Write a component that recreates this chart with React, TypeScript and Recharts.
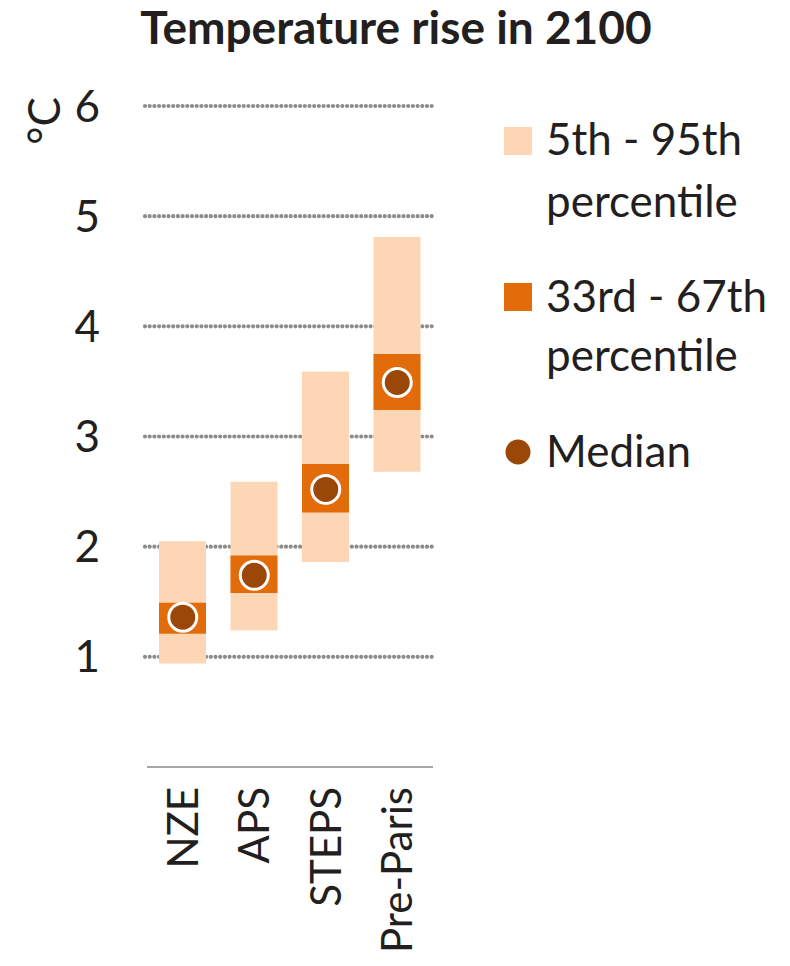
import React from 'react';
import { ComposedChart, Bar, Line, XAxis, YAxis, CartesianGrid, Label } from 'recharts';

// scenario ranges of warming in 2100 (°C)
const categories = ['NZE', 'APS', 'STEPS', 'Pre-Paris'];
const p5 = [0.94, 1.24, 1.86, 2.68];
const p95 = [2.05, 2.59, 3.59, 4.81];
const p33 = [1.21, 1.58, 2.31, 3.24];
const p67 = [1.49, 1.92, 2.75, 3.75];
const median = [1.36, 1.74, 2.52, 3.49];
const yTicks = [1, 2, 3, 4, 5, 6];

const FONT = 'Lato, "Noto Sans", sans-serif';
const TEXT = '#231f20';
const LIGHT = '#fdd6b5';
const ORANGE = '#e36c0a';
const BROWN = '#9a4708';

const data = categories.map((name, i) => ({
  name,
  outer: [p5[i], p95[i]],
  inner: [p33[i], p67[i]],
  median: median[i],
}));

const CategoryTick = (props: any) => {
  const { x, y, payload } = props;
  return (
    <text
      transform={`translate(${x},${y + 20}) rotate(-90)`}
      textAnchor="end"
      dy="0.355em"
      fontSize={42}
      fontFamily={FONT}
      fill={TEXT}
    >
      {payload.value}
    </text>
  );
};

const MedianDot = (props: any) => {
  const { cx, cy, index } = props;
  if (cx == null || cy == null) return null;
  return <circle key={index} cx={cx} cy={cy} r={14} fill={BROWN} stroke="#fff" strokeWidth={3} />;
};

// dotted grid line, a bit wider than the plot like the original
const DottedLine = (props: any) => {
  const { x1, x2, y1, y2, index } = props;
  return (
    <line
      key={index}
      x1={x1 - 2}
      x2={x2 + 3}
      y1={y1}
      y2={y2}
      stroke="#8c8c8c"
      strokeWidth={4.2}
      strokeDasharray="0 4.7"
      strokeLinecap="round"
    />
  );
};

const UnitLabel = (props: any) => {
  const vb = props.viewBox;
  return (
    <text
      transform={`translate(${vb.x + 60},${vb.y + 15}) rotate(-90)`}
      textAnchor="middle"
      fontSize={44}
      fontFamily={FONT}
      fill={TEXT}
    >
      °C
    </text>
  );
};

const Overlay = () => (
  <svg
    width={790}
    height={966}
    style={{ position: 'absolute', left: 0, top: 0, pointerEvents: 'none' }}
  >
    <text x={396} y={44} textAnchor="middle" fontSize={46} fontWeight={700} fontFamily={FONT} fill={TEXT}>
      Temperature rise in 2100
    </text>
    <g fontSize={44} fontFamily={FONT} fill={TEXT}>
      <rect x={504} y={127} width={28} height={28} fill={LIGHT} />
      <text x={546} y={155}>5th - 95th</text>
      <text x={546} y={217}>percentile</text>
      <rect x={504} y={283} width={28} height={28} fill={ORANGE} />
      <text x={546} y={312}>33rd - 67th</text>
      <text x={546} y={371}>percentile</text>
      <circle cx={518} cy={452} r={12.5} fill={BROWN} />
      <text x={546} y={467}>Median</text>
    </g>
  </svg>
);

export default function App() {
  return (
    <div style={{ position: 'absolute', left: 0, top: 0, width: 790, height: 966, background: '#fff' }}>
      <ComposedChart
        width={790}
        height={966}
        data={data}
        margin={{ top: 106, right: 357, bottom: 0, left: 0 }}
      >
        <CartesianGrid
          vertical={false}
          horizontalValues={yTicks}
          horizontal={DottedLine}
        />
        <XAxis
          xAxisId="main"
          dataKey="name"
          height={199}
          tickSize={0}
          tickMargin={0}
          tickLine={false}
          axisLine={{ stroke: '#505050', strokeWidth: 1 }}
          tick={<CategoryTick />}
          interval={0}
        />
        <XAxis xAxisId="inner" dataKey="name" orientation="top" height={0} hide />
        <YAxis
          domain={[0, 6]}
          ticks={yTicks}
          width={147}
          tickSize={0}
          tickMargin={47}
          tickLine={false}
          axisLine={false}
          tick={{ fontSize: 44, fontFamily: FONT, fill: TEXT }}
        >
          <Label content={<UnitLabel />} />
        </YAxis>
        <Bar xAxisId="main" dataKey="outer" barSize={47} fill={LIGHT} isAnimationActive={false} />
        <Bar xAxisId="inner" dataKey="inner" barSize={47} fill={ORANGE} isAnimationActive={false} />
        <Line
          xAxisId="main"
          dataKey="median"
          stroke="none"
          dot={MedianDot}
          activeDot={false}
          isAnimationActive={false}
        />
      </ComposedChart>
      <Overlay />
    </div>
  );
}
